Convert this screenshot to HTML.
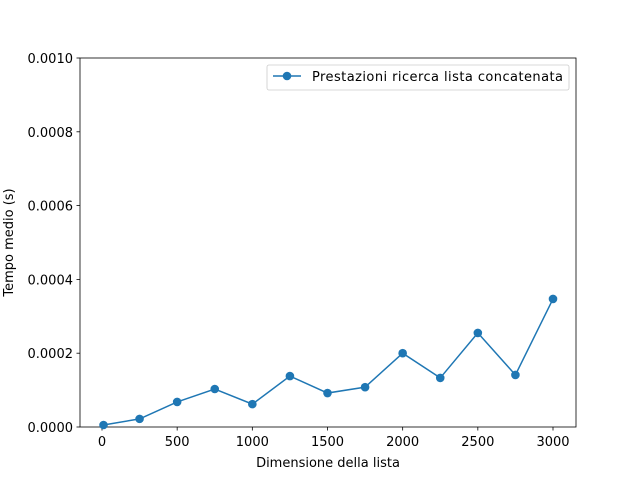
<!DOCTYPE html>
<html><head><meta charset="utf-8"><style>
body{margin:0;background:#fff}
svg text{font-family:"DejaVu Sans","Liberation Sans",sans-serif;font-size:13px;fill:#000}
</style></head><body>
<svg id="chart" width="640" height="480" xmlns="http://www.w3.org/2000/svg"></svg>
<script>
const sizes=[10,250,500,750,1000,1250,1500,1750,2000,2250,2500,2750,3000];
const times=[0.0000054,0.000022,0.000068,0.000103,0.000062,0.000138,0.000092,0.000108,0.0002,0.000133,0.000255,0.000141,0.000347];
const xTicks=[0,500,1000,1500,2000,2500,3000];
const yTicks=[0,0.0002,0.0004,0.0006,0.0008,0.001];
const yTickLabels=["0.0000","0.0002","0.0004","0.0006","0.0008","0.0010"];
const L=80,R=576,T=58,B=427;
const xs=v=>102+(v/3000)*451;
const ys=v=>B-(v/0.001)*(B-T);
const svg=document.getElementById('chart');
const NS='http://www.w3.org/2000/svg';
function mk(tag,attrs,parent){const e=document.createElementNS(NS,tag);for(const k in attrs)e.setAttribute(k,attrs[k]);(parent||svg).appendChild(e);return e;}
const frame=mk('rect',{x:L,y:T,width:R-L,height:B-T,fill:'none',stroke:'#000','stroke-width':0.8});


xTicks.forEach(v=>{
  const l=mk('line',{x1:xs(v),x2:xs(v),y1:B,y2:B+3.5,stroke:'#000','stroke-width':0.8});
  
  
  const t=mk('text',{x:xs(v),y:B+19,'text-anchor':'middle'});t.textContent=v;
  
  
});
yTicks.forEach((v,i)=>{
  const l=mk('line',{x1:L-3.5,x2:L,y1:ys(v),y2:ys(v),stroke:'#000','stroke-width':0.8});
  
  
  const t=mk('text',{x:L-7,y:ys(v)+5,'text-anchor':'end'});t.textContent=yTickLabels[i];
  
  
});
const xt=mk('text',{x:(L+R)/2,y:467,'text-anchor':'middle'});xt.textContent='Dimensione della lista';


const yt=mk('text',{x:0,y:0,'text-anchor':'middle',transform:`translate(13,${(T+B)/2}) rotate(-90)`});yt.textContent='Tempo medio (s)';


const line=mk('polyline',{points:sizes.map((s,i)=>xs(s)+','+ys(times[i])).join(' '),fill:'none',stroke:'#1f77b4','stroke-width':1.5});


sizes.forEach((s,i)=>{
  const c=mk('circle',{cx:xs(s),cy:ys(times[i]),r:4.3,fill:'#1f77b4'});
  
  
});
const lg=mk('g',{});


mk('rect',{x:267,y:65,width:302,height:25,rx:2,fill:'#fff',stroke:'#ccc','stroke-width':0.8},lg);
mk('line',{x1:273,x2:301,y1:76,y2:76,stroke:'#1f77b4','stroke-width':1.5},lg);
mk('circle',{cx:287,cy:76,r:4.3,fill:'#1f77b4'},lg);
const lt=mk('text',{x:312,y:81,textLength:251},lg);lt.textContent='Prestazioni ricerca lista concatenata';


</script>
</body></html>
